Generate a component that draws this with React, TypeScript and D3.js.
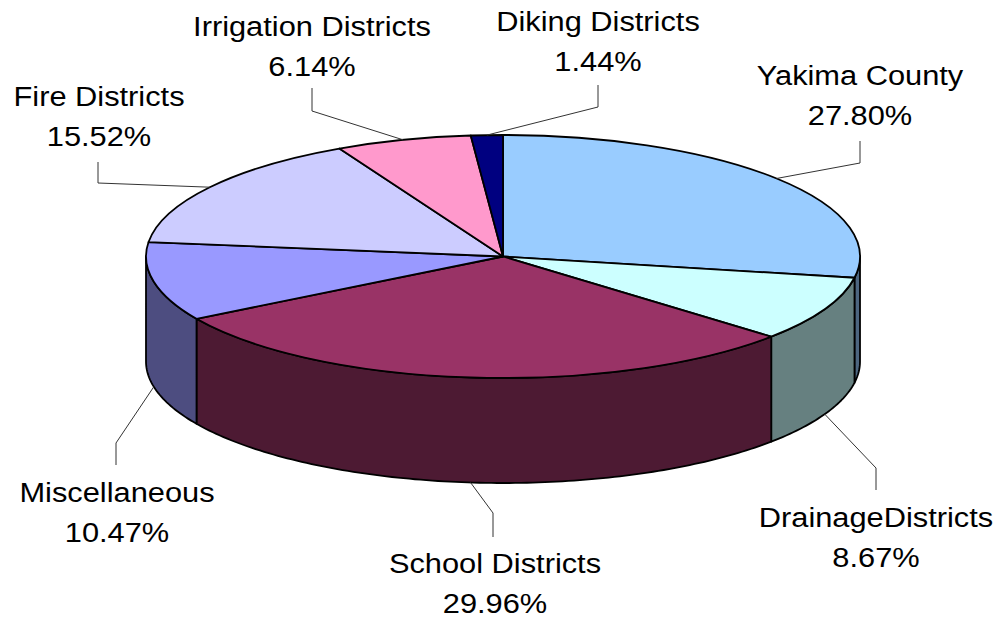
import React from 'react';
import * as d3 from 'd3';

// Share of levy by taxing district type (percent)
const categories = [
  'Yakima County',
  'DrainageDistricts',
  'School Districts',
  'Miscellaneous',
  'Fire Districts',
  'Irrigation Districts',
  'Diking Districts',
];
const shares = [27.8, 8.67, 29.96, 10.47, 15.52, 6.14, 1.44];
const shareLabels = ['27.80%', '8.67%', '29.96%', '10.47%', '15.52%', '6.14%', '1.44%'];

const topColors = ['#99CCFF', '#CCFFFF', '#993366', '#9999FF', '#CCCCFF', '#FF99CC', '#000080'];
const sideColors = ['#4D6680', '#668080', '#4D1A33', '#4D4D80', '#666680', '#804D66', '#000040'];

// label layout: text centre, first baseline, leader vertical x, leader end near label, elbow y
const labelLayout = [
  { x: 860, y: 85, lx: 860, ly0: 141, ly1: 163 },
  { x: 876, y: 527, lx: 876, ly0: 490, ly1: 468 },
  { x: 495, y: 573, lx: 493, ly0: 537, ly1: 513 },
  { x: 117, y: 502, lx: 116, ly0: 465, ly1: 443 },
  { x: 99, y: 106, lx: 98, ly0: 162, ly1: 183 },
  { x: 312, y: 36, lx: 312, ly0: 88, ly1: 111 },
  { x: 598, y: 31, lx: 598, ly0: 85, ly1: 107 },
];

const width = 1003;
const height = 620;
const cx = 503;
const cy = 256.5;
const rx = 357;
const ry = 121.5;
const depth = 105;

const App = () => {
  const pie = d3.pie<number>().sort(null).value(d => d);
  const arcs = pie(shares);

  const arc = d3.arc<d3.PieArcDatum<number>>().innerRadius(0).outerRadius(rx);

  // point on the top (or bottom) ellipse for an angle measured clockwise from 12 o'clock
  const pt = (a: number, dy = 0): [number, number] => [cx + rx * Math.sin(a), cy - ry * Math.cos(a) + dy];
  const line = d3.line();

  // front wall of each slice (only the half facing the viewer shows)
  const walls = arcs.map((s, i) => {
    const a0 = Math.max(s.startAngle, Math.PI / 2);
    const a1 = Math.min(s.endAngle, (3 * Math.PI) / 2);
    if (a0 >= a1) return null;
    const n = Math.max(2, Math.ceil((a1 - a0) * 60));
    const angles = d3.range(n + 1).map(k => a0 + ((a1 - a0) * k) / n);
    const pts = [...angles.map(a => pt(a)), ...angles.slice().reverse().map(a => pt(a, depth))];
    return { i, d: line(pts) + 'Z' };
  }).filter(Boolean) as { i: number; d: string }[];

  const leaders = arcs.map((s, i) => {
    const mid = (s.startAngle + s.endAngle) / 2;
    const front = mid > Math.PI / 2 && mid < (3 * Math.PI) / 2;
    const p = pt(mid, front ? depth : 0);
    const L = labelLayout[i];
    return line([[L.lx, L.ly0], [L.lx, L.ly1], p]) as string;
  });

  return (
    <svg width={width} height={height} style={{ position: 'absolute', left: 0, top: 0, background: '#fff' }}
      fontFamily='"Liberation Sans", Arial, sans-serif'>
      <g>
        {walls.map(w => (
          <path key={'w' + w.i} d={w.d} fill={sideColors[w.i]} stroke="#000" strokeWidth={1.8} strokeLinejoin="round" />
        ))}
      </g>
      <g transform={`translate(${cx},${cy}) scale(1,${ry / rx})`}>
        {arcs.map((s, i) => (
          <path key={'t' + i} d={arc(s) as string} fill={topColors[i]} stroke="#000" strokeWidth={1.8}
            strokeLinejoin="round" vectorEffect="non-scaling-stroke" />
        ))}
      </g>
      <g fill="none" stroke="#333" strokeWidth={1}>
        {leaders.map((d, i) => <path key={'l' + i} d={d} />)}
      </g>
      <g fontSize={28} fill="#000" textAnchor="middle">
        {categories.map((c, i) => (
          <text key={'tx' + i} transform={`translate(${labelLayout[i].x},${labelLayout[i].y}) scale(1.1,1)`}>
            <tspan x={0} dy={0}>{c}</tspan>
            <tspan x={0} dy={40}>{shareLabels[i]}</tspan>
          </text>
        ))}
      </g>
    </svg>
  );
};

export default App;
